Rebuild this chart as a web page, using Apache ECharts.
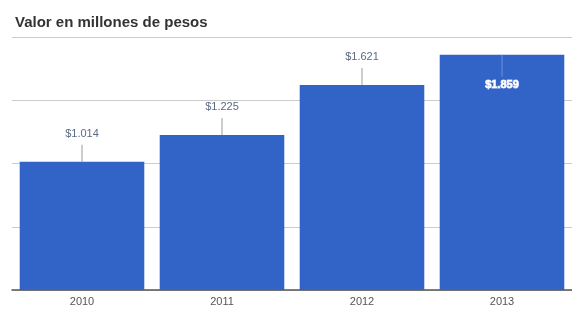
<!DOCTYPE html>
<html>
<head>
<meta charset="utf-8">
<script src="https://cdn.jsdelivr.net/npm/echarts@6/dist/echarts.min.js"></script>
<style>
html, body { margin: 0; padding: 0; background: #fff; }
#chart { width: 572px; height: 312px; }
</style>
</head>
<body>
<div id="chart"></div>
<script>
var years = ['2010', '2011', '2012', '2013'];
var valores = [1014, 1225, 1621, 1859];
var etiquetas = ['$1.014', '$1.225', '$1.621', '$1.859'];

var chart = echarts.init(document.getElementById('chart'));

var annotData = valores.map(function (v, i) { return [i, v]; });

var option = {
	animation: false,
	title: {
		text: 'Valor en millones de pesos',
		left: 10,
		top: 10,
		textStyle: {
			color: '#333',
			fontSize: 15,
			fontWeight: 'bold',
			fontFamily: 'Liberation Sans'
		}
	},
	grid: {
		left: 12,
		right: 0,
		top: 37,
		bottom: 22
	},
	xAxis: {
		type: 'category',
		data: years,
		axisLine: { lineStyle: { color: '#555', width: 1.5 } },
		axisTick: { show: false },
		axisLabel: {
			color: '#555',
			fontSize: 11,
			fontFamily: 'Liberation Sans',
			margin: 6
		}
	},
	yAxis: {
		type: 'value',
		min: 0,
		max: 2000,
		interval: 500,
		axisLabel: { show: false },
		axisLine: { show: false },
		axisTick: { show: false },
		splitLine: { lineStyle: { color: '#ccc' } }
	},
	series: [
		{
			type: 'bar',
			data: valores,
			barCategoryGap: '11%',
			itemStyle: { color: '#3264c8' }
		},
		{
			// anotaciones con linea guia
			type: 'custom',
			data: annotData,
			z: 5,
			renderItem: function (params, api) {
				var i = params.dataIndex;
				var p = api.coord([api.value(0), api.value(1)]);
				var inside = i === valores.length - 1;
				if (inside) {
					return {
						type: 'group',
						children: [
							{
								type: 'line',
								shape: { x1: p[0], y1: p[1], x2: p[0], y2: p[1] + 22 },
								style: { stroke: '#6f8fd6', lineWidth: 1 }
							},
							{
								type: 'text',
								style: {
									text: etiquetas[i],
									x: p[0], y: p[1] + 30,
									align: 'center', verticalAlign: 'middle',
									fill: '#fff',
									stroke: '#c9d6f2', lineWidth: 1,
									font: 'bold 11px Liberation Sans'
								}
							}
						]
					};
				}
				return {
					type: 'group',
					children: [
						{
							type: 'line',
							shape: { x1: p[0], y1: p[1], x2: p[0], y2: p[1] - 17 },
							style: { stroke: '#999', lineWidth: 1 }
						},
						{
							type: 'text',
							style: {
								text: etiquetas[i],
								x: p[0], y: p[1] - 28,
								align: 'center', verticalAlign: 'middle',
								fill: '#5a6a85',
								font: '11px Liberation Sans'
							}
						}
					]
				};
			}
		}
	]
};
chart.setOption(option);
</script>
</body>
</html>
